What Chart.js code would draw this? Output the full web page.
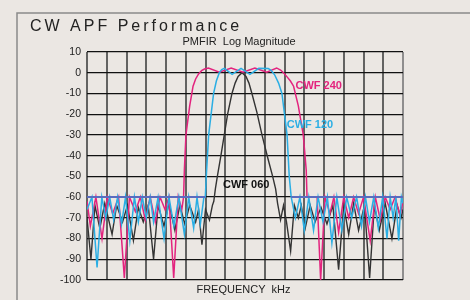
<!DOCTYPE html>
<html><head><meta charset="utf-8">
<script src="https://cdn.jsdelivr.net/npm/chart.js@4"></script>
<style>html,body{margin:0;padding:0;background:#ebe7e3;}canvas{display:block}</style>
</head><body>
<canvas id="c" width="470" height="300"></canvas>
<script>
// Frequency axis in grid divisions (0..16), magnitude in dB
const cwf240 = [[0,-62],[0.17,-74],[0.45,-60],[0.76,-80],[1.03,-60],[1.3,-68],[1.6,-60],[1.89,-99],[2.15,-60],[2.45,-67],[2.7,-60],[2.95,-71],[3.2,-60],[3.46,-72],[3.7,-60],[3.95,-66],[4.15,-60],[4.39,-99],[4.62,-60],[4.8,-66],[4.89,-60],
 [4.93,-47],[5.01,-30],[5.2,-16],[5.37,-6.5],[5.5,-3],[5.65,-0.6],[5.8,1],[5.95,1.8],
 [6.15,2.3],[6.7,0.3],[7.3,2.3],[7.9,0.2],[8.5,2.3],[9.1,0.3],[9.6,2.3],
 [9.8,1.3],[9.95,0],[10.13,-2],[10.3,-4],[10.46,-6.5],[10.7,-16],[10.95,-30],[11.1,-47],[11.14,-60],
 [11.65,-60],[11.83,-100],[12.05,-60],[12.3,-68],[12.5,-60],[12.74,-77],[13.0,-60],[13.25,-70],[13.5,-60],[13.75,-68],[14.0,-60],[14.34,-81],[14.6,-60],[14.85,-71],[15.1,-60],[15.35,-66],[15.6,-60],[15.85,-69],[16,-62]];
const cwf120 = [[0,-66],[0.25,-60],[0.51,-94],[0.75,-60],[0.95,-70],[1.15,-60],[1.35,-71],[1.55,-60],[1.75,-73],[1.95,-60],[2.17,-81],[2.4,-60],[2.6,-72],[2.8,-60],[3.0,-70],[3.2,-60],[3.37,-72],[3.6,-60],[3.9,-80],[4.15,-60],[4.4,-74],[4.65,-60],[4.93,-78],[5.15,-60],[5.4,-75],[5.57,-60],[5.74,-73],[5.92,-60],
 [5.99,-60],[6.04,-50],[6.16,-30],[6.41,-10],[6.55,-4],[6.7,0],[6.82,1.5],[6.95,2.1],
 [7.35,-0.8],[7.8,2.1],[8.25,-0.8],[8.7,2.1],[9.18,2.0],
 [9.32,1.2],[9.5,-1],[9.7,-5],[9.87,-10],[10.13,-30],[10.24,-50],[10.34,-60],
 [10.55,-70],[10.78,-60],[11.0,-76],[11.23,-60],[11.47,-76],[11.7,-60],[11.95,-72],[12.17,-60],[12.4,-82],[12.65,-60],[12.9,-76],[13.15,-60],[13.4,-70],[13.65,-60],[13.9,-74],[14.1,-60],[14.3,-72],[14.52,-60],[14.75,-75],[14.97,-60],[15.19,-80],[15.35,-60],[15.5,-70],[15.64,-60],[15.78,-81],[15.92,-60],[16,-63]];
const cwf060 = [[0,-70],[0.2,-90],[0.4,-64],[0.65,-75],[0.9,-63],[1.27,-78],[1.5,-64],[1.8,-72],[2.05,-64],[2.35,-81],[2.6,-65],[2.85,-72],[3.1,-64],[3.37,-90],[3.6,-64],[3.9,-74],[4.15,-63],[4.45,-76],[4.7,-64],[4.95,-73],[5.2,-64],[5.5,-72],[5.65,-66],[5.82,-83],[6.0,-66],[6.2,-71],[6.35,-64],
 [6.42,-62],[6.5,-56],[6.6,-50],[6.78,-40],[6.95,-30],[7.12,-20],[7.34,-10],[7.5,-5],[7.65,-1.8],[7.85,0],[8.05,-1.8],[8.2,-5],[8.35,-10],[8.6,-19],[8.86,-30],[9.15,-41],[9.4,-50],[9.55,-56],[9.65,-63],
 [9.8,-71],[9.95,-64],[10.1,-72],[10.31,-86],[10.5,-64],[10.7,-70],[10.85,-64],[11.05,-75],[11.3,-64],[11.55,-72],[11.85,-65],[12.15,-73],[12.45,-64],[12.74,-95],[13.0,-64],[13.25,-78],[13.5,-63],[13.75,-76],[14.05,-64],[14.31,-99],[14.55,-64],[14.8,-76],[15.1,-63],[15.44,-80],[15.7,-64],[15.9,-70],[16,-66]];
const floorLine = [[0,-60],[5.99,-60],null,[10.34,-60],[16,-60]];
const seriesNames = ['CWF 240','CWF 120','CWF 060'];
const seriesLabelAt = [[11.73,-6.5],[11.29,-25.3],[8.06,-54]];
const yMin = -100, yMax = 10, yStep = 10;
const xMin = 0, xMax = 16;
const titleText = 'CW APF Performance';
const subtitleText = 'PMFIR  Log Magnitude';
const xAxisText = 'FREQUENCY  kHz';

const toPts = a => a.map(p => p === null ? {x: 8.2, y: null} : {x: p[0], y: p[1]});
const colors = ['#e3237e', '#2aaee4', '#333333'];
const FONT = '"Liberation Sans", Arial, sans-serif';

const deco = {
  id: 'deco',
  beforeDraw(chart) {
    const c = chart.ctx;
    c.save();
    c.strokeStyle = '#8a8a8a';
    c.lineWidth = 1.5;
    c.strokeRect(17, 13, 700, 700);
    c.restore();
  },
  afterDraw(chart) {
    const c = chart.ctx, xs = chart.scales.x, ys = chart.scales.y;
    c.save();
    c.fillStyle = '#222';
    c.textBaseline = 'alphabetic';
    c.textAlign = 'left';
    c.font = '16px ' + FONT;
    try { c.letterSpacing = '3px'; } catch (e) {}
    c.fillText(titleText, 30, 30.7);
    try { c.letterSpacing = '0px'; } catch (e) {}
    c.textAlign = 'center';
    c.font = '11px ' + FONT;
    c.fillText(subtitleText, 239, 45);
    c.fillText(xAxisText, 243.5, 292.7);
    c.font = 'bold 11px ' + FONT;
    c.textBaseline = 'middle';
    seriesNames.forEach((n, i) => {
      c.fillStyle = i === 2 ? '#111' : colors[i];
      c.fillText(n, xs.getPixelForValue(seriesLabelAt[i][0]), ys.getPixelForValue(seriesLabelAt[i][1]));
    });
    c.restore();
  }
};

new Chart(document.getElementById('c'), {
  type: 'line',
  data: {
    datasets: [
      {label: 'floor', data: toPts(floorLine), borderColor: '#5a6cc0', borderWidth: 2, order: 0},
      {label: seriesNames[1], data: toPts(cwf120), borderColor: colors[1], borderWidth: 1.5, order: 1},
      {label: seriesNames[0], data: toPts(cwf240), borderColor: colors[0], borderWidth: 1.5, order: 2},
      {label: seriesNames[2], data: toPts(cwf060), borderColor: colors[2], borderWidth: 1.4, order: 3}
    ]
  },
  options: {
    responsive: false,
    animation: false,
    devicePixelRatio: 1,
    layout: {padding: {left: 0, right: 67, top: 52, bottom: 0}},
    elements: {point: {radius: 0}, line: {tension: 0, fill: false}},
    plugins: {legend: {display: false}, tooltip: {enabled: false}, title: {display: false}},
    scales: {
      x: {
        type: 'linear', min: xMin, max: xMax,
        ticks: {display: false, stepSize: 1},
        border: {display: false},
        grid: {drawTicks: false, lineWidth: 2,
          color: ctx => ctx.index === 16 ? 'rgba(120,120,120,0.8)' : 'rgba(75,75,75,0.85)'},
        afterFit: s => { s.height = 20; }
      },
      y: {
        min: yMin, max: yMax,
        ticks: {stepSize: yStep, padding: 6, color: '#222', font: {family: FONT, size: 10.5}},
        border: {display: false},
        grid: {drawTicks: false, color: '#111', lineWidth: 1.2},
        afterFit: s => { s.width = 87; }
      }
    }
  },
  plugins: [deco]
});
</script>
</body></html>
